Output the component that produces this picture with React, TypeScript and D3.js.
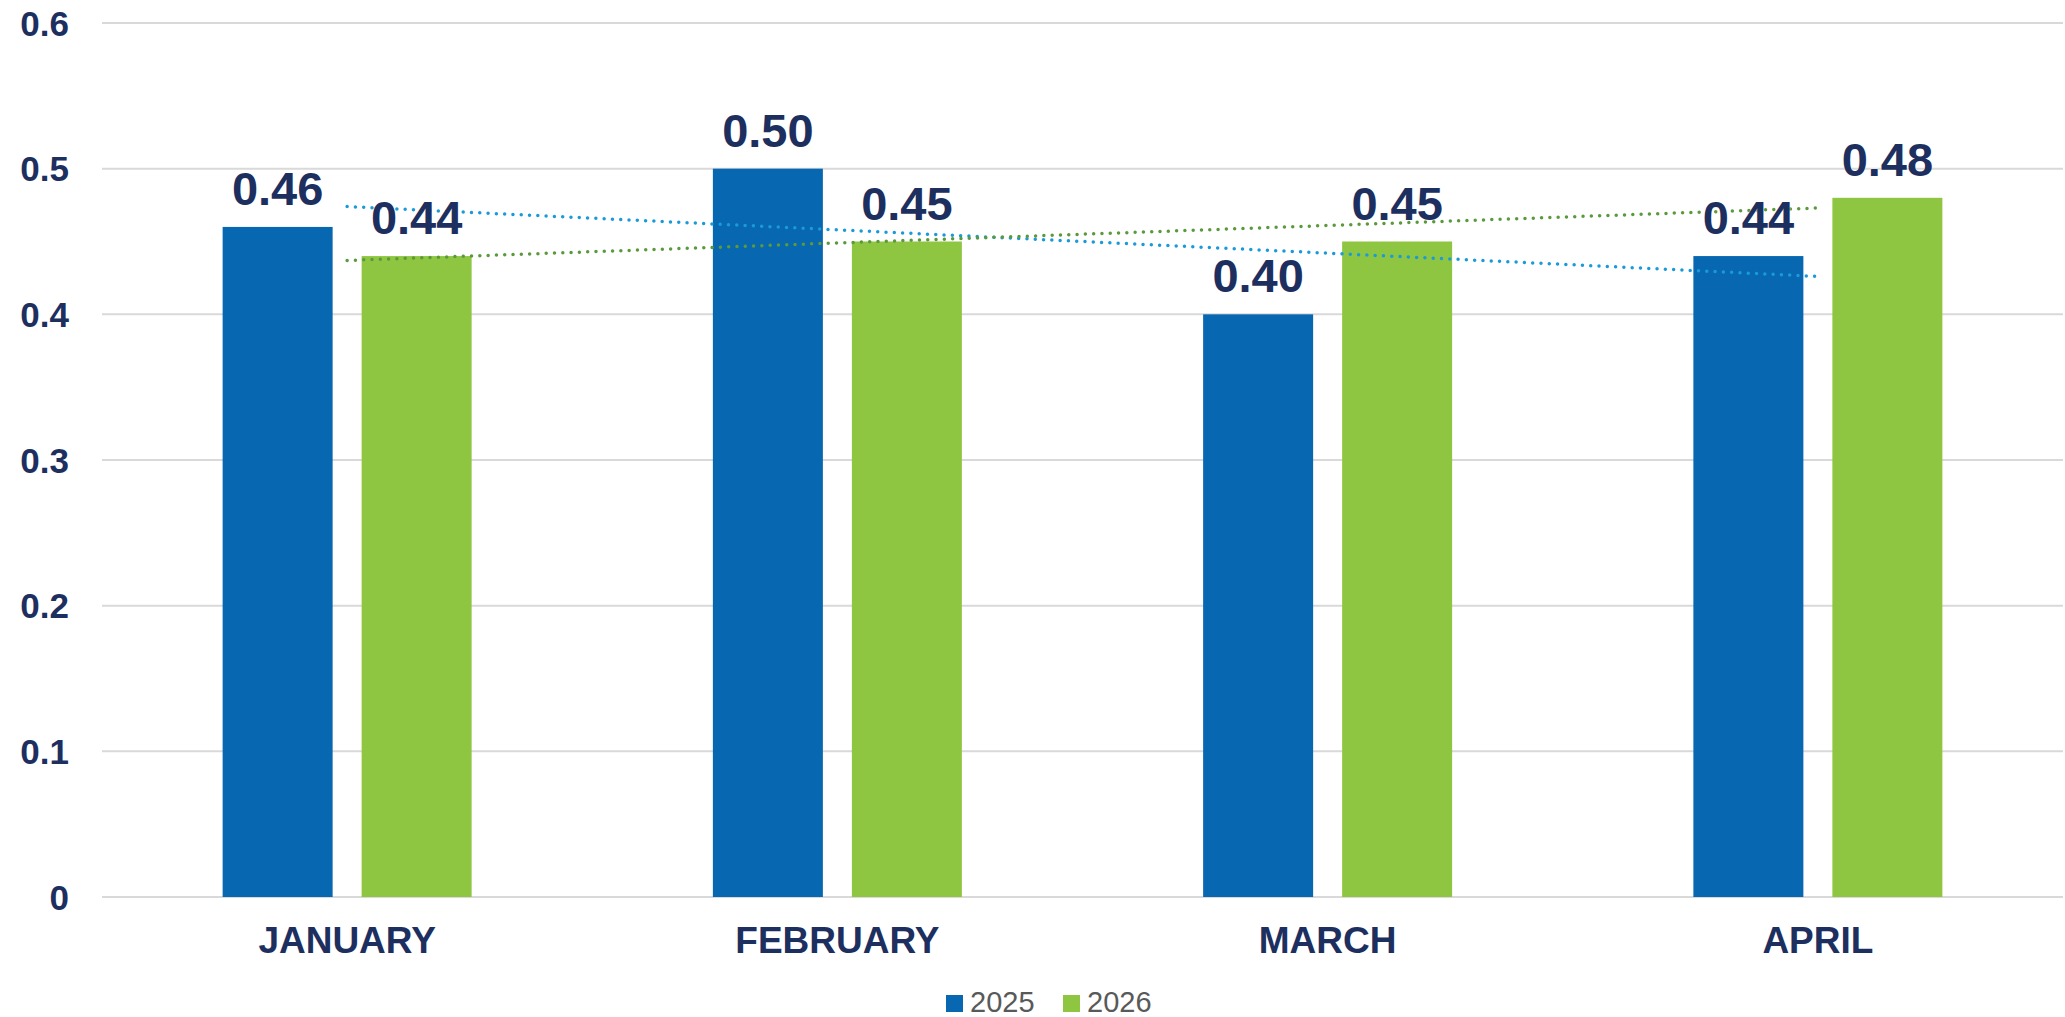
import React from 'react';
import * as d3 from 'd3';

const months = ['JANUARY', 'FEBRUARY', 'MARCH', 'APRIL'];
const series = ['2025', '2026'];
const values2025 = [0.46, 0.5, 0.4, 0.44];
const values2026 = [0.44, 0.45, 0.45, 0.48];
const yTicks = [0, 0.1, 0.2, 0.3, 0.4, 0.5, 0.6];

const colors = ['#0767b0', '#8fc641'];
const trendColors = ['#1a9ad8', '#5b9a3c'];
const navy = '#1d2f5f';
const font = '"Liberation Sans", Arial, sans-serif';

// least squares line over category index
function trend(vals: number[]) {
    const n = vals.length;
    const mx = d3.mean(vals.map((_, i) => i)) as number;
    const my = d3.mean(vals) as number;
    let num = 0, den = 0;
    vals.forEach((v, i) => {
        num += (i - mx) * (v - my);
        den += (i - mx) * (i - mx);
    });
    const slope = num / den;
    return [0, n - 1].map(i => ({ i, v: my + slope * (i - mx) }));
}

export default function App() {
    const width = 2065, height = 1017;
    const left = 102, right = 2063, top = 23, bottom = 897;

    const x = d3.scaleBand<string>().domain(months).range([left, right]);
    const y = d3.scaleLinear().domain([0, 0.6]).range([bottom, top]);
    const barW = 110, gap = 29;
    const data = [values2025, values2026];

    const center = (m: string) => (x(m) as number) + x.bandwidth() / 2;
    const barX = (m: string, s: number) =>
        center(m) - (barW * 2 + gap) / 2 + s * (barW + gap);

    const line = d3.line<{ i: number; v: number }>()
        .x(d => center(months[d.i]))
        .y(d => y(d.v));

    return (
        <div style={{ position: 'absolute', left: 0, top: 0 }}>
            <svg width={width} height={height} style={{ display: 'block', fontFamily: font }}>
                <rect width={width} height={height} fill="#fff" />
                {yTicks.map(t => (
                    <g key={t}>
                        <line x1={left} x2={right} y1={y(t)} y2={y(t)} stroke="#d9d9d9" strokeWidth={2} />
                        <text x={69} y={y(t)} dy="0.36em" textAnchor="end" fontSize={35} fontWeight="bold" fill={navy}>
                            {t === 0 ? '0' : t.toFixed(1)}
                        </text>
                    </g>
                ))}
                {data.map((vals, s) => (
                    <g key={s}>
                        {vals.map((v, i) => (
                            <rect key={i} x={barX(months[i], s)} y={y(v)} width={barW}
                                height={bottom - y(v)} fill={colors[s]} />
                        ))}
                    </g>
                ))}
                {data.map((vals, s) => (
                    <path key={s} d={line(trend(vals)) as string} fill="none" stroke={trendColors[s]}
                        strokeWidth={3.5} strokeDasharray="0 8.3" strokeLinecap="round" />
                ))}
                {data.map((vals, s) => (
                    <g key={s}>
                        {vals.map((v, i) => (
                            <text key={i} x={barX(months[i], s) + barW / 2} y={y(v) - 22}
                                textAnchor="middle" fontSize={47} fontWeight="bold" fill={navy}
                                stroke="#fff" strokeWidth={1} strokeOpacity={0.6} paintOrder="stroke">
                                {v.toFixed(2)}
                            </text>
                        ))}
                    </g>
                ))}
                {months.map(m => (
                    <text key={m} x={center(m)} y={953} textAnchor="middle" fontSize={37}
                        fontWeight="bold" fill={navy}>{m}</text>
                ))}
                {series.map((name, s) => (
                    <g key={name} transform={`translate(${946 + s * 117},0)`}>
                        <rect x={0} y={995} width={17} height={17} fill={colors[s]} />
                        <text x={24} y={1012} fontSize={29} fill="#595959">{name}</text>
                    </g>
                ))}
            </svg>
        </div>
    );
}
